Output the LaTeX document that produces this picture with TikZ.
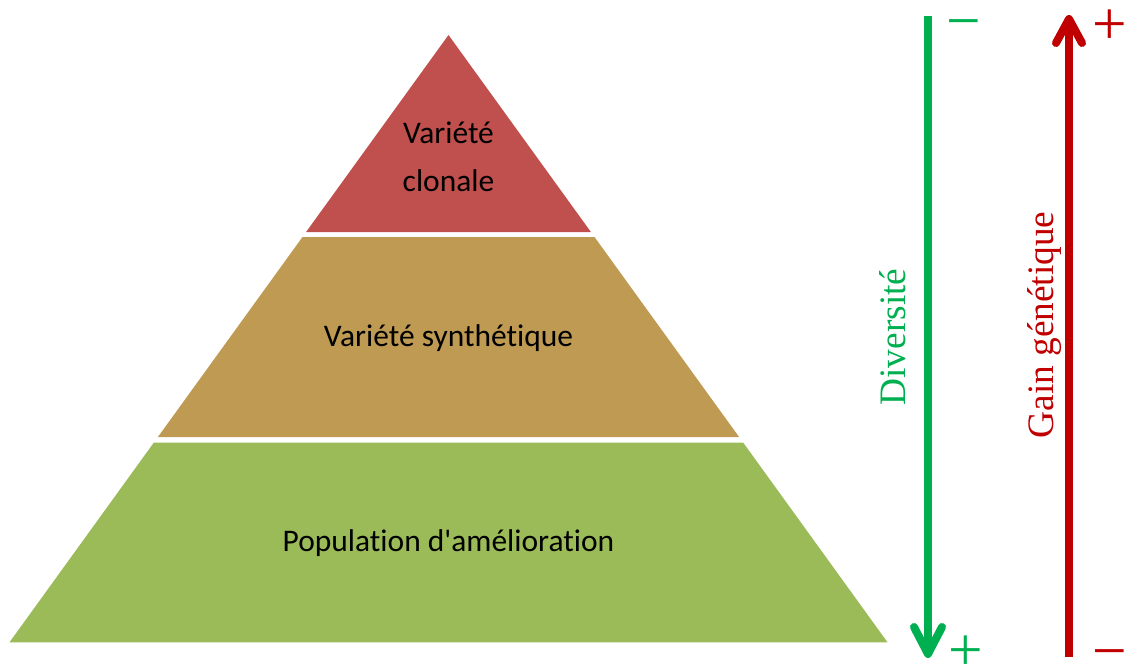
\documentclass[tikz,border=0pt]{standalone}
\usepackage{fontspec}
\setmainfont{Carlito}[Ligatures={TeXOff,CommonOff}]
\newfontfamily\serifface{Liberation Serif}
\definecolor{topred}{HTML}{C0504D}
\definecolor{midtan}{HTML}{BE9A53}
\definecolor{lowgreen}{HTML}{9BBB59}
\definecolor{divgreen}{HTML}{00B050}
\definecolor{gainred}{HTML}{C00000}
\begin{document}
\begin{tikzpicture}[x=0.75pt,y=-0.75pt,
  band/.style={draw=none},
  bandtext/.style={inner sep=0pt,align=center,font=\fontsize{23.6}{36}\selectfont},
  axistext/.style={inner sep=0pt,rotate=90,font=\serifface\fontsize{28}{30}\selectfont},
  signtext/.style={inner sep=0pt,anchor=base,font=\serifface\fontsize{46}{46}\selectfont},
  shaft/.style={line width=6pt},
  chevron/.style={line width=6pt,line cap=round,line join=round}]
\useasboundingbox (0,0) rectangle (1125,664);
% pyramid bands
\fill[band,topred] (448.5,35) -- (590.9,232) -- (306.1,232) -- cycle;
\fill[band,midtan] (302.5,237) -- (594.5,237) -- (739.1,437) -- (157.9,437) -- cycle;
\fill[band,lowgreen] (153.9,442.5) -- (743.1,442.5) -- (887.5,642.3) -- (9.5,642.3) -- cycle;
\node[bandtext] (clonal) at (448.5,157) {Variété\\clonale};
\node[bandtext] (synth) at (448.5,338) {Variété synthétique};
\node[bandtext] (popul) at (448.5,543) {Population d'amélioration};
% diversity arrow
\coordinate (dtop) at (928,16);
\coordinate (dtip) at (928,652);
\coordinate (dl) at (914,627);
\coordinate (dr) at (942,627);
\draw[shaft,divgreen] (dtop) -- (dtip);
\draw[chevron,divgreen] (dl) -- (928,654) -- (dr);
\node[axistext,text=divgreen] (div) at (892.5,337) {Diversité};
\node[signtext,text=divgreen] (dminus) at (963.5,41) {−};
\node[signtext,text=divgreen] (dplus) at (966,670) {+};
% gain arrow
\coordinate (gbot) at (1069,657);
\coordinate (gtip) at (1069,22);
\coordinate (gl) at (1056,43);
\coordinate (gr) at (1082,43);
\draw[shaft,gainred] (gbot) -- (gtip);
\draw[chevron,gainred] (gl) -- (1069,19) -- (gr);
\node[axistext,text=gainred] (gain) at (1045,325) {Gain génétique};
\node[signtext,text=gainred] (gplus) at (1110,44) {+};
\node[signtext,text=gainred] (gminus) at (1110,671) {−};
\end{tikzpicture}
\end{document}
